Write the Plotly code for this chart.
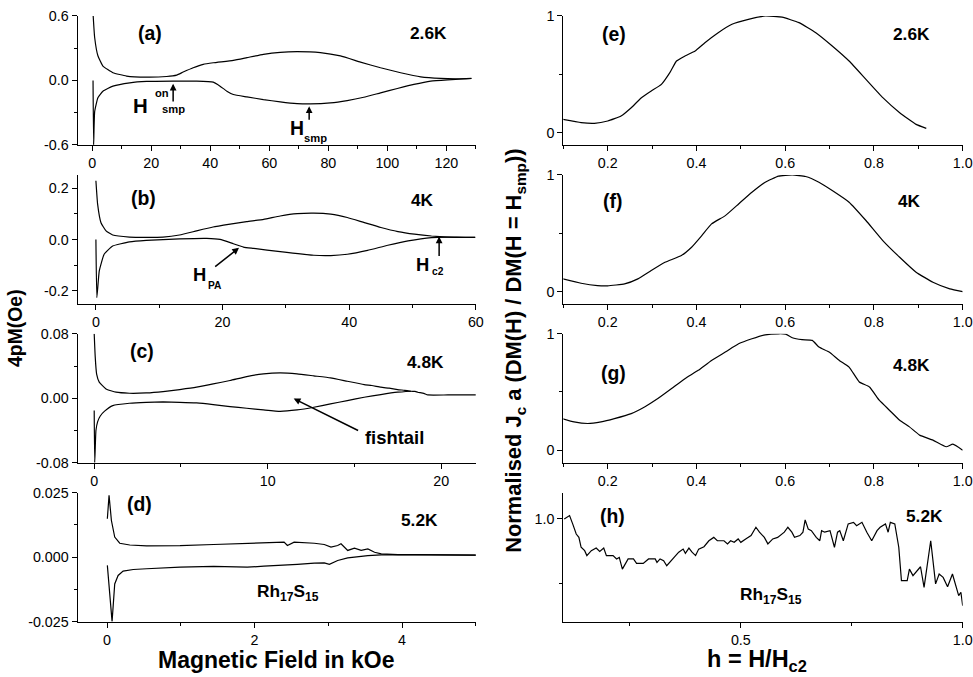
import plotly.graph_objects as go

W, H = 973, 677
FONT = "Liberation Sans, Arial, Helvetica, sans-serif"

# ---------------- data ----------------
# (a) 2.6K
a_up_H = [0.3, 0.8, 1.9, 3.6, 7.0, 11.6, 18.4, 25.2, 28.6, 30.8, 34.2, 37.6, 41.0, 47.8, 52.4, 58.0,
          63.7, 69.4, 77.3, 84.1, 90.9, 97.7, 104.5, 111.3, 118.1, 123.8, 128.5]
a_up_M = [0.60, 0.40, 0.23, 0.134, 0.072, 0.041, 0.031, 0.037, 0.050, 0.078, 0.118, 0.150, 0.165, 0.187,
          0.212, 0.243, 0.262, 0.268, 0.259, 0.228, 0.171, 0.118, 0.072, 0.034, 0.019, 0.016, 0.020]
a_lo_H = [0.25, 0.45, 0.8, 1.9, 3.6, 7.0, 12.7, 18.4, 27.4, 35.4, 41.0, 43.3, 45.6, 47.8, 52.4, 58.0,
          63.7, 69.4, 73.9, 80.7, 86.4, 92.0, 97.7, 103.4, 109.0, 114.7, 120.4, 128.5]
a_lo_M = [0.0, -0.6, -0.29, -0.16, -0.10, -0.053, -0.022, -0.009, -0.006, -0.006, -0.016, -0.053, -0.10,
          -0.131, -0.153, -0.178, -0.199, -0.215, -0.218, -0.209, -0.187, -0.156, -0.115, -0.075, -0.037,
          -0.006, 0.006, 0.018]

# (b) 4K
b_up_H = [0.0, 0.27, 0.8, 1.6, 2.65, 5.3, 7.95, 10.6, 13.2, 15.9, 18.5, 21.2, 23.8, 26.5, 29.1, 31.8,
          34.4, 37.1, 39.7, 42.4, 45.0, 47.7, 50.3, 53.0, 55.6, 58.3, 59.9]
b_up_M = [0.229, 0.138, 0.066, 0.034, 0.018, 0.010, 0.009, 0.010, 0.018, 0.034, 0.049, 0.060, 0.070,
          0.079, 0.092, 0.101, 0.103, 0.099, 0.086, 0.066, 0.047, 0.031, 0.021, 0.014, 0.010, 0.009, 0.009]
b_lo_H = [0.0, 0.15, 0.53, 1.3, 2.65, 5.3, 7.95, 13.2, 17.5, 19.6, 21.7, 23.3, 24.9, 29.1, 34.4, 37.1,
          39.7, 42.9, 46.1, 49.3, 53.0, 55.6, 58.3, 59.9]
b_lo_M = [0.0, -0.226, -0.122, -0.057, -0.025, -0.009, -0.003, 0.003, 0.005, 0.001, -0.016, -0.029,
          -0.034, -0.047, -0.061, -0.062, -0.057, -0.042, -0.022, -0.005, 0.008, 0.010, 0.009, 0.009]

# (c) 4.8K
c_up_H = [0.0, 0.06, 0.14, 0.29, 0.68, 1.26, 2.03, 3.0, 3.97, 4.93, 5.9, 6.86, 7.83, 8.79, 9.76, 10.72,
          11.69, 12.66, 13.62, 14.59, 15.56, 16.0, 16.52, 17.0, 17.49, 17.9, 18.26, 18.5, 18.65, 19.0,
          19.23, 20.39, 22.0]
c_up_M = [0.08, 0.051, 0.030, 0.020, 0.0116, 0.0075, 0.0062, 0.0066, 0.0083, 0.0108, 0.0137, 0.0178,
          0.0220, 0.0269, 0.0303, 0.0315, 0.0303, 0.0278, 0.0253, 0.0211, 0.0170, 0.0158, 0.0137, 0.0125,
          0.0108, 0.0098, 0.0087, 0.0085, 0.0075, 0.0060, 0.0041, 0.0041, 0.0041]
c_lo_H = [0.0, 0.03, 0.10, 0.2, 0.35, 0.6, 1.07, 2.03, 3.0, 3.97, 4.93, 5.9, 6.86, 7.83, 8.79, 9.76,
          10.72, 11.69, 12.66, 13.62, 14.59, 15.56, 16.52, 17.49, 18.26]
c_lo_M = [-0.0153, -0.08, -0.040, -0.029, -0.022, -0.016, -0.0091, -0.0062, -0.0050, -0.0046, -0.0050,
          -0.0058, -0.0079, -0.0104, -0.0124, -0.0145, -0.0162, -0.0145, -0.0112, -0.0070, -0.0029,
          0.0012, 0.0046, 0.0075, 0.0087]

# (d) 5.2K
d_up_H = [0.004, 0.027, 0.059, 0.104, 0.172, 0.308, 0.536, 0.99, 1.445, 1.90, 2.354, 2.40, 2.445, 2.536,
          2.81, 2.945, 3.036, 3.127, 3.172, 3.263, 3.354, 3.445, 3.536, 3.627, 3.718, 3.945, 4.173, 4.4,
          4.627, 5.0]
d_up_M = [0.0149, 0.0240, 0.0142, 0.0078, 0.0054, 0.0047, 0.0044, 0.0045, 0.0049, 0.0054, 0.0060,
          0.0058, 0.0045, 0.0058, 0.0054, 0.0049, 0.0039, 0.0045, 0.0052, 0.0026, 0.0035, 0.0026, 0.0032,
          0.0019, 0.0013, 0.0010, 0.0010, 0.0009, 0.0008, 0.0008]
d_lo_H = [0.004, 0.068, 0.104, 0.15, 0.218, 0.355, 0.536, 0.99, 1.445, 1.90, 2.127, 2.354, 2.58, 2.81,
          2.945, 3.014, 3.127, 3.263, 3.354, 3.536, 3.718, 3.945, 4.4, 5.0]
d_lo_M = [-0.0032, -0.025, -0.0104, -0.0071, -0.0054, -0.0048, -0.0045, -0.0039, -0.0036, -0.0039,
          -0.0035, -0.0032, -0.0028, -0.0023, -0.0022, -0.0028, -0.0013, -0.0003, 0.0000, 0.0006, 0.0009,
          0.0010, 0.0009, 0.0008]

# (e) 2.6K normalised Jc
e_h = [0.098, 0.140, 0.170, 0.2, 0.230, 0.253, 0.276, 0.298, 0.321, 0.340, 0.355, 0.374, 0.397, 0.419,
       0.449, 0.480, 0.517, 0.555, 0.593, 0.631, 0.669, 0.706, 0.744, 0.782, 0.820, 0.858, 0.895, 0.918]
e_v = [0.114, 0.086, 0.080, 0.100, 0.143, 0.214, 0.300, 0.357, 0.414, 0.514, 0.614, 0.657, 0.700, 0.771,
       0.857, 0.929, 0.971, 1.0, 0.99, 0.943, 0.857, 0.743, 0.614, 0.457, 0.300, 0.171, 0.071, 0.037]

# (f) 4K
f_h = [0.098, 0.140, 0.177, 0.2, 0.238, 0.268, 0.298, 0.329, 0.366, 0.389, 0.412, 0.434, 0.465, 0.495,
       0.525, 0.555, 0.585, 0.616, 0.646, 0.676, 0.706, 0.744, 0.782, 0.820, 0.858, 0.895, 0.933, 0.971, 1.0]
f_v = [0.109, 0.071, 0.051, 0.049, 0.066, 0.109, 0.180, 0.251, 0.309, 0.380, 0.480, 0.580, 0.651, 0.751,
       0.851, 0.937, 0.989, 1.0, 0.986, 0.937, 0.866, 0.766, 0.609, 0.437, 0.294, 0.166, 0.080, 0.023, 0.0]

# (g) 4.8K
g_h = [0.098, 0.124, 0.155, 0.185, 0.215, 0.253, 0.283, 0.313, 0.344, 0.374, 0.404, 0.434, 0.465, 0.495,
       0.525, 0.555, 0.585, 0.601, 0.616, 0.638, 0.661, 0.676, 0.699, 0.722, 0.744, 0.767, 0.790, 0.812,
       0.835, 0.858, 0.880, 0.903, 0.933, 0.963, 0.978, 1.0]
g_v = [0.271, 0.243, 0.229, 0.243, 0.271, 0.314, 0.371, 0.443, 0.529, 0.614, 0.686, 0.771, 0.843, 0.914,
       0.957, 0.991, 1.0, 0.997, 0.966, 0.949, 0.943, 0.886, 0.843, 0.771, 0.714, 0.586, 0.543, 0.429,
       0.343, 0.257, 0.200, 0.129, 0.086, 0.029, 0.051, 0.0]

# (h) 5.2K
h_h = [0.102, 0.114, 0.121, 0.129, 0.135, 0.140, 0.148, 0.153, 0.163, 0.174, 0.182, 0.191, 0.197, 0.212,
       0.220, 0.226, 0.233, 0.246, 0.258, 0.265, 0.280, 0.292, 0.307, 0.311, 0.318, 0.326, 0.333, 0.345,
       0.360, 0.370, 0.375, 0.383, 0.390, 0.398, 0.405, 0.417, 0.428, 0.439, 0.447, 0.462, 0.470, 0.477,
       0.485, 0.494, 0.500, 0.511, 0.523, 0.534, 0.542, 0.553, 0.561, 0.572, 0.583, 0.598, 0.606, 0.615,
       0.621, 0.633, 0.640, 0.645, 0.652, 0.659, 0.670, 0.678, 0.682, 0.689, 0.701, 0.711, 0.718, 0.723,
       0.731, 0.742, 0.754, 0.761, 0.773, 0.784, 0.795, 0.807, 0.814, 0.826, 0.832, 0.837, 0.847, 0.856,
       0.862, 0.875, 0.880, 0.888, 0.898, 0.905, 0.913, 0.928, 0.939, 0.947, 0.956, 0.966, 0.977, 0.984,
       0.991, 0.996, 1.0]
h_v = [0.999, 1.012, 0.980, 0.941, 0.928, 0.890, 0.877, 0.858, 0.877, 0.887, 0.874, 0.887, 0.858, 0.858,
       0.845, 0.851, 0.806, 0.845, 0.845, 0.828, 0.828, 0.845, 0.845, 0.832, 0.845, 0.838, 0.819, 0.841,
       0.871, 0.883, 0.867, 0.887, 0.871, 0.858, 0.883, 0.892, 0.915, 0.928, 0.915, 0.915, 0.903, 0.915,
       0.909, 0.922, 0.909, 0.922, 0.935, 0.967, 0.948, 0.928, 0.903, 0.922, 0.928, 0.948, 0.967, 0.948,
       0.928, 0.935, 0.948, 0.995, 0.960, 0.954, 0.928, 0.915, 0.954, 0.948, 0.954, 0.890, 0.948, 0.954,
       0.915, 0.980, 0.986, 0.973, 0.986, 0.948, 0.915, 0.954, 0.967, 0.980, 0.948, 0.986, 0.980, 0.890,
       0.762, 0.762, 0.806, 0.781, 0.800, 0.815, 0.736, 0.915, 0.749, 0.787, 0.774, 0.738, 0.787, 0.749,
       0.704, 0.717, 0.665]

# tick values / labels
a_xticks = [0, 20, 40, 60, 80, 100, 120]
a_xminor = [10, 30, 50, 70, 90, 110, 130]
a_yticks = [-0.6, 0.0, 0.6]
a_ylabels = ["-0.6", "0.0", "0.6"]
a_yminor = [-0.3, 0.3]
b_xticks = [0, 20, 40, 60]
b_xminor = [10, 30, 50]
b_yticks = [-0.2, 0.0, 0.2]
b_ylabels = ["-0.2", "0.0", "0.2"]
b_yminor = [-0.1, 0.1]
c_xticks = [0, 10, 20]
c_xminor = [5, 15]
c_yticks = [-0.08, 0.0, 0.08]
c_ylabels = ["-0.08", "0.00", "0.08"]
c_yminor = [-0.04, 0.04]
d_xticks = [0, 2, 4]
d_xminor = [1, 3, 5]
d_yticks = [-0.025, 0.0, 0.025]
d_ylabels = ["-0.025", "0.000", "0.025"]
d_yminor = [-0.0125, 0.0125]
r_xticks = [0.2, 0.4, 0.6, 0.8, 1.0]
r_xlabels = ["0.2", "0.4", "0.6", "0.8", "1.0"]
r_xminor = [0.1, 0.3, 0.5, 0.7, 0.9]
r_yticks = [0, 1]
r_ylabels = ["0", "1"]
r_yminor = [0.5]
h_xticks = [0.5, 1.0]
h_xlabels = ["0.5", "1.0"]
h_xminor = [0.25, 0.75]
h_yticks = [1.0]
h_ylabels = ["1.0"]
h_yminor = [0.75]

# ---------------- layout helpers ----------------
# the photographed page comes out slightly shrunk; place things so they land where the
# reference has them (target pixel -> page pixel)
SX, CX = 0.984, 4.9
SY, CY = 0.977, 7.0


def tx(px):
    return min(max((px - CX) / SX, 0), W)


def ty(py):
    return min(max((py - CY) / SY, 0), H)


def pp(px, py):
    return tx(px) / W, 1 - ty(py) / H


def fs(size):
    return round(size / 0.98, 1)


LEFT = [tx(82) / W, tx(478) / W]
RIGHT = [tx(565) / W, tx(962) / W]
ROWS = [(15, 144), (174, 303), (333, 462), (492, 621)]
ROWD = [[1 - ty(b) / H, 1 - ty(t) / H] for t, b in ROWS]

common = dict(showline=True, linecolor="black", linewidth=1, ticks="outside", ticklen=5, tickwidth=1,
              tickcolor="black", showgrid=False, zeroline=False, mirror=False, ticklabeloverflow="allow",
              tickfont=dict(family=FONT, size=fs(14), color="black"))


def ax(domain, rng, anchor, tv, tt, mv):
    d = dict(domain=domain, range=rng, anchor=anchor, tickmode="array", tickvals=tv,
             minor=dict(tickmode="array", tickvals=mv, ticks="outside", ticklen=3, tickwidth=1,
                        tickcolor="black", showgrid=False), **common)
    if tt is not None:
        d["ticktext"] = tt
    return d


fig = go.Figure()
series = [
    ("x", "y", [(a_up_H, a_up_M), (a_lo_H, a_lo_M)], True),
    ("x2", "y2", [(b_up_H, b_up_M), (b_lo_H, b_lo_M)], True),
    ("x3", "y3", [(c_up_H, c_up_M), (c_lo_H, c_lo_M)], True),
    ("x4", "y4", [(d_up_H, d_up_M), (d_lo_H, d_lo_M)], False),
    ("x5", "y5", [(e_h, e_v)], True),
    ("x6", "y6", [(f_h, f_v)], True),
    ("x7", "y7", [(g_h, g_v)], True),
    ("x8", "y8", [(h_h, h_v)], False),
]
for xa, ya, lines, smooth in series:
    for xs, ys in lines:
        ln = dict(color="black", width=1.2)
        if smooth:
            ln.update(shape="spline", smoothing=0.4)
        fig.add_trace(go.Scatter(x=xs, y=ys, mode="lines", xaxis=xa, yaxis=ya, line=ln,
                                 showlegend=False, hoverinfo="skip"))

layout = dict(
    width=W, height=H, margin=dict(l=0, r=0, t=0, b=0), paper_bgcolor="white", plot_bgcolor="white",
    showlegend=False, font=dict(family=FONT, color="black"),
    xaxis=ax(LEFT, [-5, 130], "y", a_xticks, None, a_xminor),
    yaxis=ax(ROWD[0], [-0.6, 0.6], "x", a_yticks, a_ylabels, a_yminor),
    xaxis2=ax(LEFT, [-2.9, 60], "y2", b_xticks, None, b_xminor),
    yaxis2=ax(ROWD[1], [-0.25, 0.252], "x2", b_yticks, b_ylabels, b_yminor),
    xaxis3=ax(LEFT, [-0.96, 22], "y3", c_xticks, None, c_xminor),
    yaxis3=ax(ROWD[2], [-0.08, 0.08], "x3", c_yticks, c_ylabels, c_yminor),
    xaxis4=ax(LEFT, [-0.4, 5.0], "y4", d_xticks, None, d_xminor),
    yaxis4=ax(ROWD[3], [-0.025, 0.025], "x4", d_yticks, d_ylabels, d_yminor),
    xaxis5=ax(RIGHT, [0.1, 1.0], "y5", r_xticks, r_xlabels, r_xminor),
    yaxis5=ax(ROWD[0], [-0.105, 1.0], "x5", r_yticks, r_ylabels, r_yminor),
    xaxis6=ax(RIGHT, [0.1, 1.0], "y6", r_xticks, r_xlabels, r_xminor),
    yaxis6=ax(ROWD[1], [-0.105, 1.0], "x6", r_yticks, r_ylabels, r_yminor),
    xaxis7=ax(RIGHT, [0.1, 1.0], "y7", r_xticks, r_xlabels, r_xminor),
    yaxis7=ax(ROWD[2], [-0.108, 1.0], "x7", r_yticks, r_ylabels, r_yminor),
    xaxis8=ax(RIGHT, [0.1, 1.0], "y8", h_xticks, h_xlabels, h_xminor),
    yaxis8=ax(ROWD[3], [0.604, 1.1], "x8", h_yticks, h_ylabels, h_yminor),
)
fig.update_layout(**layout)

ann = []


def text(px, py, s, size, angle=0):
    x, y = pp(px, py)
    ann.append(dict(x=x, y=y, xref="paper", yref="paper", text="<b>" + s + "</b>", showarrow=False,
                    xanchor="center", yanchor="middle", textangle=angle,
                    font=dict(family=FONT, size=fs(size), color="black")))


def arrow(xr, yr, hx, hy, tx_, ty_):
    ann.append(dict(x=hx, y=hy, ax=tx_, ay=ty_, xref=xr, yref=yr, axref=xr, ayref=yr, text="",
                    showarrow=True, arrowhead=2, arrowsize=0.9, arrowwidth=1.5, arrowcolor="black", standoff=0))


# panel labels and temperatures
for px, py, s in [(154, 32, "(a)"), (148, 197, "(b)"), (146, 350, "(c)"), (144, 503, "(d)"),
                  (615, 33, "(e)"), (614, 200, "(f)"), (615, 372, "(g)"), (614, 515, "(h)")]:
    text(px, py, s, 19)
for px, py, s in [(431, 32, "2.6K"), (425, 199, "4K"), (428, 361, "4.8K"), (422, 519, "5.2K"),
                  (911, 33, "2.6K"), (909, 200, "4K"), (911, 364, "4.8K"), (924, 515, "5.2K")]:
    text(px, py, s, 17)

# field markers
text(145, 105, "H", 20)
text(166, 92, "on", 11)
text(177, 108, "smp", 11)
text(300, 127, "H", 19)
text(319, 137, "smp", 11)
text(203, 274, "H", 18)
text(219, 285, "PA", 10)
text(425, 264, "H", 18)
text(440, 271, "c2", 10)
text(397, 437, "fishtail", 18)
text(291, 592, "Rh<sub>17</sub>S<sub>15</sub>", 17)
text(771, 595, "Rh<sub>17</sub>S<sub>15</sub>", 17)

arrow("x", "y", 27.4, -0.03, 27.4, -0.21)
arrow("x", "y", 73.5, -0.24, 73.5, -0.38)
arrow("x2", "y2", 22.6, -0.032, 18.6, -0.11)
arrow("x2", "y2", 54.2, 0.012, 54.2, -0.07)
arrow("x3", "y3", 11.5, -0.0004, 15.3, -0.041)

# axis titles
text(279, 659, "Magnetic Field in kOe", 22.5)
text(758, 660, "h = H/H<sub>c2</sub>", 23)
text(20, 327, "4pM(Oe)", 19, -90)
text(517, 350, "Normalised J<sub>c</sub> a (DM(H) / DM(H = H<sub>smp</sub>))", 21.5, -90)

fig.update_layout(annotations=ann)
fig.write_html("out.html", config={"displayModeBar": False},
               post_script="document.body.style.margin='0px';document.body.style.padding='0px';")
